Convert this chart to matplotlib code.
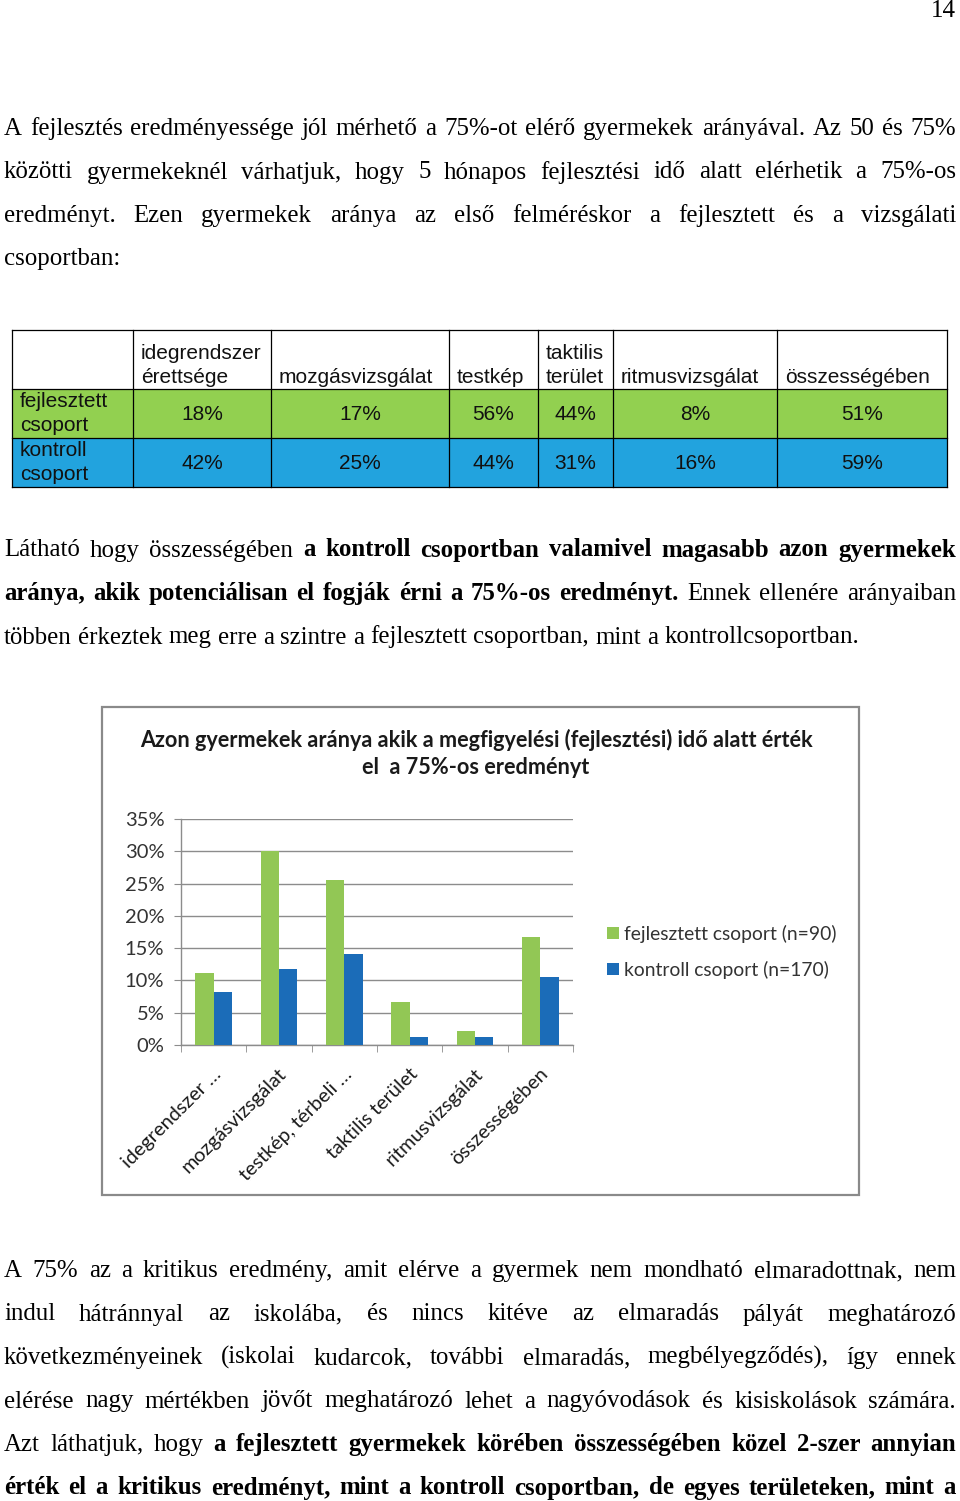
import numpy as np
import matplotlib
matplotlib.use('Agg')
import matplotlib.pyplot as plt
from matplotlib.patches import Rectangle, Patch
from matplotlib.transforms import ScaledTranslation

# chart data (percent of children reaching the 75% result)
categories = ['idegrendszer …', 'mozgásvizsgálat', 'testkép, térbeli …',
              'taktilis terület', 'ritmusvizsgálat', 'összességében']
fejlesztett = [11.1, 30.0, 25.6, 6.7, 2.2, 16.7]
kontroll = [8.2, 11.8, 14.1, 1.2, 1.2, 10.6]
series_names = ['fejlesztett csoport (n=90)', 'kontroll csoport (n=170)']
yticks = [0, 5, 10, 15, 20, 25, 30, 35]
chart_title = ['Azon gyermekek aránya akik a megfigyelési (fejlesztési) idő alatt érték',
               'el  a 75%-os eredményt']

# table data
table_head = ['', 'idegrendszer\nérettsége', 'mozgásvizsgálat', 'testkép',
              'taktilis\nterület', 'ritmusvizsgálat', 'összességében']
table_rows = ['fejlesztett\ncsoport', 'kontroll\ncsoport']
table_fejl = ['18%', '17%', '56%', '44%', '8%', '51%']
table_kontr = ['42%', '25%', '44%', '31%', '16%', '59%']

# page text, ** marks bold
para1 = ['A fejlesztés eredményessége jól mérhető a 75%-ot elérő gyermekek arányával. Az 50 és 75%',
         'közötti gyermekeknél várhatjuk, hogy 5 hónapos fejlesztési idő alatt elérhetik a 75%-os',
         'eredményt. Ezen gyermekek aránya az első felméréskor a fejlesztett és a vizsgálati',
         'csoportban:']
para2 = ['Látható hogy összességében **a kontroll csoportban valamivel magasabb azon gyermekek**',
         '**aránya, akik potenciálisan el fogják érni a 75%-os eredményt.** Ennek ellenére arányaiban',
         'többen érkeztek meg erre a szintre a fejlesztett csoportban, mint a kontrollcsoportban.']
para3 = ['A 75% az a kritikus eredmény, amit elérve a gyermek nem mondható elmaradottnak, nem',
         'indul hátránnyal az iskolába, és nincs kitéve az elmaradás pályát meghatározó',
         'következményeinek (iskolai kudarcok, további elmaradás, megbélyegződés), így ennek',
         'elérése nagy mértékben jövőt meghatározó lehet a nagyóvodások és kisiskolások számára.',
         'Azt láthatjuk, hogy **a fejlesztett gyermekek körében összességében közel 2-szer annyian**',
         '**érték el a kritikus eredményt, mint a kontroll csoportban, de egyes területeken, mint a**']

W, H = 960, 1501
GREEN = '#92C755'
BLUE = '#1B6CB8'
TGREEN = '#92D050'
TBLUE = '#22A3DE'
SERIF = 'Liberation Serif'
BODY = 17.9

fig = plt.figure(figsize=(W / 100, H / 100), dpi=100)
page = fig.add_axes([0, 0, 1, 1])
page.set_xlim(0, W)
page.set_ylim(H, 0)
page.axis('off')
renderer = fig.canvas.get_renderer()


def put_line(line, y, justify=True, left=4, right=956):
    parts = line.split('**')
    words = []
    for k, part in enumerate(parts):
        for w in part.split():
            words.append((w, k % 2 == 1))
    arts = []
    for w, b in words:
        t = page.text(0, y, w, fontsize=BODY, family=SERIF,
                      fontweight='bold' if b else 'normal', va='baseline', ha='left')
        arts.append(t)
    widths = [t.get_window_extent(renderer).width for t in arts]
    if justify and len(arts) > 1:
        gap = (right - left - sum(widths)) / (len(arts) - 1)
    else:
        gap = BODY * 100 / 72 * 0.25
    x = left
    for t, wd in zip(arts, widths):
        t.set_x(x)
        x += wd + gap


def put_para(lines, y0, justify_last=False):
    for i, line in enumerate(lines):
        last = i == len(lines) - 1
        put_line(line, y0 + i * 43.5, justify=(not last) or justify_last)


# page number
page.text(956, 17, '14', fontsize=BODY, family=SERIF, ha='right', va='baseline')

put_para(para1, 135)
put_para(para2, 556.5)
put_para(para3, 1277, justify_last=True)

# table
col_x = [12, 133, 271, 449, 538, 613, 777, 947]
row_y = [330, 389, 438, 487]
for r, fill in enumerate([TGREEN, TBLUE]):
    page.add_patch(Rectangle((col_x[0], row_y[r + 1]), col_x[-1] - col_x[0],
                             row_y[r + 2] - row_y[r + 1], facecolor=fill, edgecolor='none'))
for x in col_x:
    page.plot([x, x], [row_y[0], row_y[-1]], color='black', lw=0.9)
for y in row_y:
    page.plot([col_x[0], col_x[-1]], [y, y], color='black', lw=0.9)

tfont = dict(fontsize=15, family='Liberation Sans', va='baseline', color='#111111')
for c, head in enumerate(table_head):
    lines = head.split('\n')
    for k, ln in enumerate(lines):
        y = 383 - 24 * (len(lines) - 1 - k)
        page.text(col_x[c] + 8, y, ln, ha='left', **tfont)
for r, lab in enumerate(table_rows):
    for k, ln in enumerate(lab.split('\n')):
        page.text(col_x[0] + 8, row_y[r + 1] + 18 + 24 * k, ln, ha='left', **tfont)
for r, vals in enumerate([table_fejl, table_kontr]):
    for c, v in enumerate(vals):
        xc = (col_x[c + 1] + col_x[c + 2]) / 2
        page.text(xc, row_y[r + 1] + 31, v, ha='center', **tfont)

# chart frame and title
page.add_patch(Rectangle((102, 707), 757, 488, facecolor='none', edgecolor='#8a8a8a', lw=1.6))
for k, ln in enumerate(chart_title):
    page.text(476, 740 + 28 * k, ln, ha='center', va='center', family='Lato',
              fontweight='bold', fontsize=15.6, color='#1a1a1a')

# bar chart
ax_l, ax_r, ax_t, ax_b = 181, 573, 819, 1045
ax = fig.add_axes([ax_l / W, 1 - ax_b / H, (ax_r - ax_l) / W, (ax_b - ax_t) / H])
x = np.arange(len(categories))
bw = 0.28
ax.bar(x - bw / 2, fejlesztett, bw, color=GREEN, label=series_names[0], zorder=3)
ax.bar(x + bw / 2, kontroll, bw, color=BLUE, label=series_names[1], zorder=3)
ax.set_xlim(-0.5, len(categories) - 0.5)
ax.set_ylim(0, 35)
ax.set_yticks(yticks)
ax.set_yticklabels([f'{v}%' for v in yticks])
ax.yaxis.grid(True, color='#8c8c8c', lw=1)
ax.set_axisbelow(True)
for s in ['top', 'right']:
    ax.spines[s].set_visible(False)
for s in ['left', 'bottom']:
    ax.spines[s].set_color('#8c8c8c')
    ax.spines[s].set_linewidth(1)
ax.tick_params(axis='y', length=5, color='#8c8c8c', labelsize=14.5, labelcolor='#333333', pad=7)
ax.set_xticks(x)
ax.set_xticklabels(categories, rotation=45, ha='right', va='center', rotation_mode='anchor')
ax.set_xticks(np.arange(-0.5, len(categories)), minor=True)
ax.tick_params(axis='x', which='major', length=0, labelsize=14.3, labelcolor='#1a1a1a', pad=19)
ax.tick_params(axis='x', which='minor', length=5, color='#8c8c8c')
shift = ScaledTranslation(5 / 100, 0, fig.dpi_scale_trans)
for lab in ax.get_xticklabels():
    lab.set_transform(lab.get_transform() + shift)
for lab in ax.get_yticklabels() + ax.get_xticklabels():
    lab.set_family('Lato')

handles = [Patch(facecolor=GREEN), Patch(facecolor=BLUE)]
leg = ax.legend(handles, series_names, loc='center left', bbox_to_anchor=(597 / W, 1 - 952 / H),
                bbox_transform=fig.transFigure, frameon=False, borderpad=0,
                handlelength=0.62, handleheight=0.62, handletextpad=0.3, labelspacing=0.93,
                prop={'family': 'Lato', 'size': 13.9})
for t in leg.get_texts():
    t.set_color('#333333')

fig.savefig('out.png', dpi=100)
